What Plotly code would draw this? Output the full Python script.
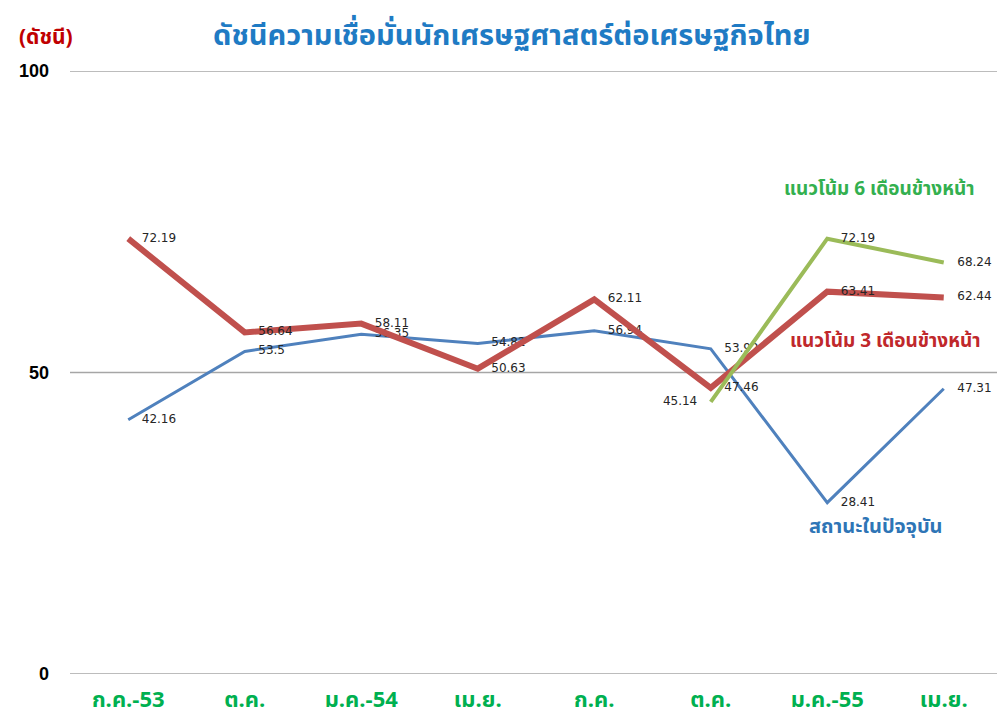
import plotly.graph_objects as go

categories = ["ก.ค.-53", "ต.ค.", "ม.ค.-54", "เม.ย.", "ก.ค.", "ต.ค.", "ม.ค.-55", "เม.ย."]
current = [42.16, 53.5, 56.35, 54.82, 56.94, 53.92, 28.41, 47.31]
trend3 = [72.19, 56.64, 58.11, 50.63, 62.11, 47.46, 63.41, 62.44]
trend6 = [None, None, None, None, None, 45.14, 72.19, 68.24]
y_ticks = [0, 50, 100]

xs = list(range(len(categories)))
THAI = "Tahoma, 'Noto Sans Thai', 'Loma', 'Garuda', sans-serif"
LBL = dict(family="DejaVu Sans, Verdana, sans-serif", size=12, color="#262626")
TRANSP = "rgba(0,0,0,0)"

def fmt(v):
    return "" if v is None else ("%g" % v)

fig = go.Figure()
fig.add_trace(go.Scatter(
    x=xs, y=current, mode="lines+markers+text",
    line=dict(color="#4F81BD", width=3),
    marker=dict(size=20, color=TRANSP),
    text=[fmt(v) for v in current], textposition="middle right",
    textfont=LBL, cliponaxis=False, showlegend=False,
))
fig.add_trace(go.Scatter(
    x=xs, y=trend3, mode="lines+markers+text",
    line=dict(color="#C0504D", width=6),
    marker=dict(size=20, color=TRANSP),
    text=[fmt(v) for v in trend3], textposition="middle right",
    textfont=LBL, cliponaxis=False, showlegend=False,
))
fig.add_trace(go.Scatter(
    x=xs, y=trend6, mode="lines+markers+text",
    line=dict(color="#9BBB59", width=4),
    marker=dict(size=20, color=TRANSP),
    text=[fmt(v) for v in trend6],
    textposition=["middle right"] * 5 + ["middle left", "middle right", "middle right"],
    textfont=LBL, cliponaxis=False, showlegend=False,
))

annos = [
    dict(text="<b>ดัชนีความเชื่อมั่นนักเศรษฐศาสตร์ต่อเศรษฐกิจไทย</b>", xref="paper", yref="paper",
         x=0.474, y=1.058, font=dict(family=THAI, size=29, color="#1F7BC4")),
    dict(text="<b>(ดัชนี)</b>", xref="paper", yref="paper", x=-0.026, y=1.056,
         font=dict(family=THAI, size=21, color="#C00000")),
    dict(text="<b>แนวโน้ม 6 เดือนข้างหน้า</b>", xref="x", yref="y", x=6.45, y=80.3,
         font=dict(family=THAI, size=19, color="#33B04F")),
    dict(text="<b>แนวโน้ม 3 เดือนข้างหน้า</b>", xref="x", yref="y", x=6.5, y=55.2,
         font=dict(family=THAI, size=19, color="#C0282B")),
    dict(text="<b>สถานะในปัจจุบัน</b>", xref="x", yref="y", x=6.42, y=24.4,
         font=dict(family=THAI, size=20, color="#2E75B6")),
]
for a in annos:
    a.update(showarrow=False, xanchor="center", yanchor="middle")

shapes = [
    dict(type="line", xref="paper", yref="y", x0=0, x1=1, y0=v, y1=v, layer="below",
         line=dict(color="#A6A6A6", width=1.5))
    for v in y_ticks
]
shapes += [
    dict(type="line", xref="paper", yref="paper", x0=-0.0676, x1=-0.0676, y0=-0.2, y1=1.1095,
         line=dict(color="#A6A6A6", width=1)),
    dict(type="line", xref="paper", yref="paper", x0=-0.0676, x1=1.1, y0=1.1095, y1=1.1095,
         line=dict(color="#A6A6A6", width=1)),
]

# page body has an 8px margin: compensate so the plot area lands at x 70..1002, y 71..674
fig.update_layout(
    width=997, height=718,
    margin=dict(l=62, r=3, t=63, b=52),
    paper_bgcolor="white", plot_bgcolor="white",
    annotations=annos, shapes=shapes,
)
fig.update_xaxes(
    range=[-0.5, 7.5], tickvals=xs, ticktext=["<b>%s</b>" % c for c in categories],
    tickfont=dict(family=THAI, size=22, color="#00B050"),
    showgrid=False, zeroline=False, showline=False, ticks="", ticklabelstandoff=10,
)
fig.update_yaxes(
    range=[0, 100], tickvals=y_ticks, ticktext=["<b>%d</b>" % v for v in y_ticks],
    tickfont=dict(family="Liberation Sans, Arial, sans-serif", size=18, color="black"),
    showgrid=False, zeroline=False, showline=False,
    ticks="", ticklabelstandoff=20,
)

fig.write_html("out.html")
